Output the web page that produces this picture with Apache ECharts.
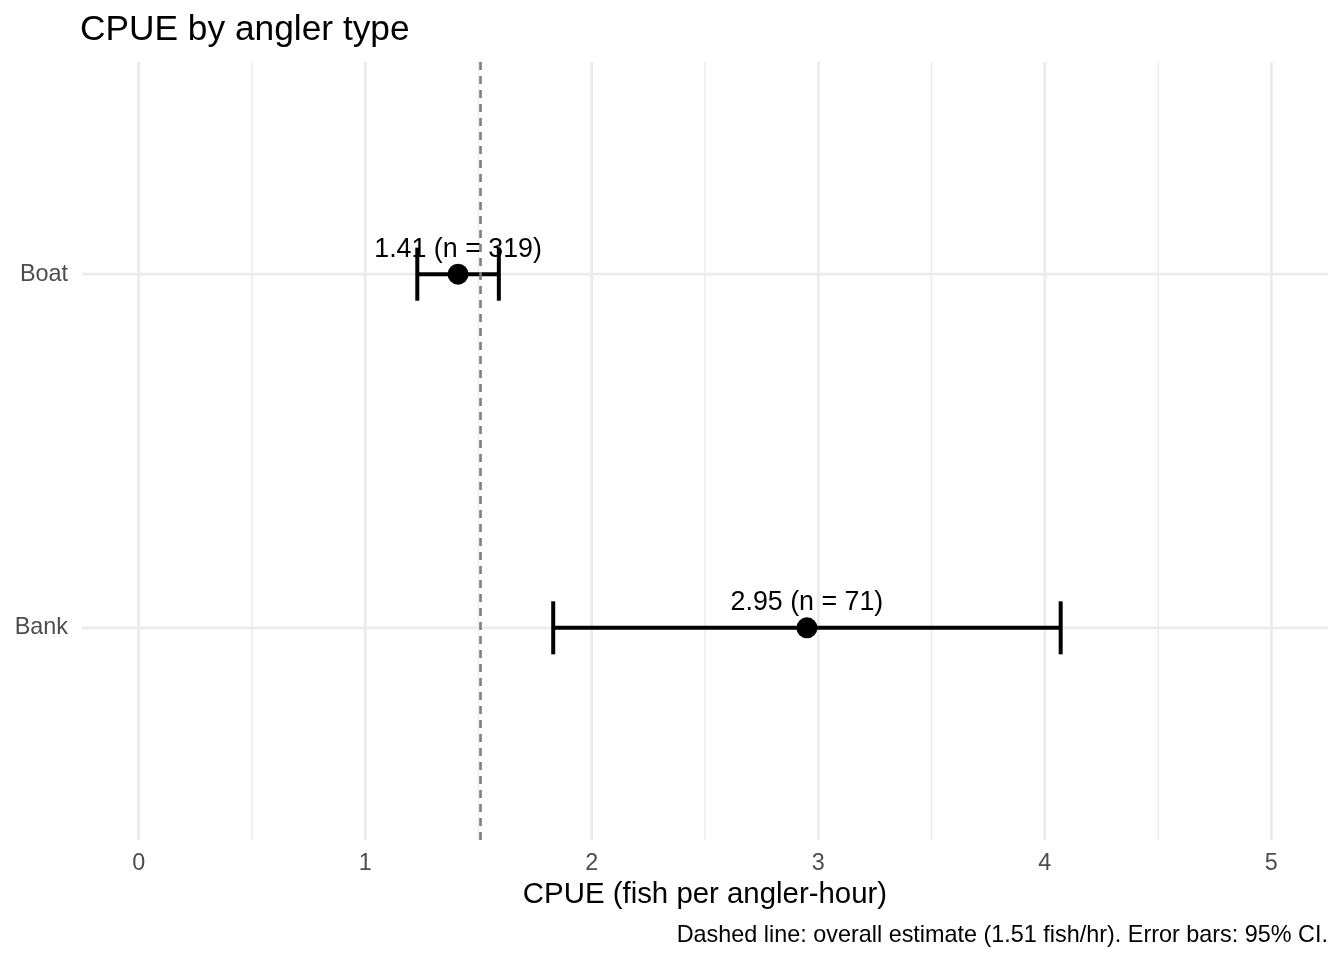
<!DOCTYPE html>
<html><head><meta charset="utf-8">
<script src="https://cdn.jsdelivr.net/npm/echarts@6/dist/echarts.min.js"></script>
<style>html,body{margin:0;padding:0;background:#fff}#c{width:1344px;height:960px}</style>
</head><body><div id="c"></div>
<script>
const categories = ['Bank', 'Boat'];
const estimates = [2.95, 1.41];
const ciLower = [1.83, 1.23];
const ciUpper = [4.07, 1.59];
const sampleSizes = [71, 319];
const overallEstimate = 1.51;
const xTicks = [0, 1, 2, 3, 4, 5];
const xMinorTicks = [0.5, 1.5, 2.5, 3.5, 4.5];

const catPos = categories.map((c, i) => i + 1);
const FONT = 'Liberation Sans, Arial, Helvetica, sans-serif';

const chart = echarts.init(document.getElementById('c'), null, {renderer: 'canvas'});

function vLine(width) {
  return function (params, api) {
    const cs = params.coordSys;
    const x = api.coord([api.value(0), 1])[0];
    return {type: 'line', shape: {x1: x, y1: cs.y, x2: x, y2: cs.y + cs.height},
      style: {stroke: '#ebebeb', lineWidth: width}};
  };
}

const option = {
  animation: false,
  backgroundColor: '#ffffff',
  textStyle: {fontFamily: FONT},
  title: [
    {text: 'CPUE by angler type', left: 75, top: 8,
     textStyle: {fontSize: 35.3, fontWeight: 'normal', color: '#000', fontFamily: FONT}},
    {text: 'Dashed line: overall estimate (' + overallEstimate.toFixed(2) + ' fish/hr). Error bars: 95% CI.',
     right: 11, top: 919,
     textStyle: {fontSize: 23.4, fontWeight: 'normal', color: '#000', fontFamily: FONT}}
  ],
  grid: {left: 82, right: 16, top: 62, bottom: 120, containLabel: false},
  xAxis: {
    type: 'value', min: -0.25, max: 5.25,
    name: 'CPUE (fish per angler-hour)', nameLocation: 'middle', nameGap: 39,
    nameTextStyle: {fontSize: 29.4, color: '#000', fontFamily: FONT},
    axisLine: {show: false}, axisTick: {show: false}, splitLine: {show: false},
    axisLabel: {customValues: xTicks, formatter: v => String(v), fontSize: 23.4, color: '#4d4d4d', margin: 12, fontFamily: FONT}
  },
  yAxis: {
    type: 'value', min: 0.4, max: 2.6,
    axisLine: {show: false}, axisTick: {show: false}, splitLine: {show: false},
    axisLabel: {customValues: catPos, formatter: v => categories[Math.round(v) - 1], fontSize: 23.4, color: '#4d4d4d', margin: 14, fontFamily: FONT,
      padding: [4, 0, 0, 0]}
  },
  series: [
    {type: 'custom', z: 1, silent: true, renderItem: vLine(1.4), data: xMinorTicks.map(v => [v])},
    {type: 'custom', z: 1, silent: true, renderItem: vLine(2.8), data: xTicks.map(v => [v])},
    {type: 'custom', z: 1, silent: true,
     renderItem: function (params, api) {
       const cs = params.coordSys;
       const y = api.coord([0, api.value(0)])[1];
       return {type: 'line', shape: {x1: cs.x, y1: y, x2: cs.x + cs.width, y2: y},
         style: {stroke: '#ebebeb', lineWidth: 2.8}};
     },
     data: catPos.map(v => [v]),
     markLine: {
       silent: true, symbol: ['none', 'none'], label: {show: false},
       lineStyle: {color: '#7f7f7f', width: 2.6, type: [8, 6], opacity: 1},
       data: [{xAxis: overallEstimate}]
     }
    },
    {type: 'custom', z: 3, silent: true,
     renderItem: function (params, api) {
       const lo = api.coord([api.value(0), api.value(2)]);
       const hi = api.coord([api.value(1), api.value(2)]);
       const capTop = api.coord([api.value(0), api.value(2) + 0.075])[1];
       const capBot = api.coord([api.value(0), api.value(2) - 0.075])[1];
       const st = {stroke: '#000', lineWidth: 4};
       return {type: 'group', children: [
         {type: 'line', shape: {x1: lo[0], y1: lo[1], x2: hi[0], y2: hi[1]}, style: st},
         {type: 'line', shape: {x1: lo[0], y1: capTop, x2: lo[0], y2: capBot}, style: st},
         {type: 'line', shape: {x1: hi[0], y1: capTop, x2: hi[0], y2: capBot}, style: st}
       ]};
     },
     data: categories.map((c, i) => [ciLower[i], ciUpper[i], catPos[i]])
    },
    {type: 'scatter', z: 4, silent: true, symbol: 'circle', symbolSize: 21,
     itemStyle: {color: '#000', opacity: 1},
     data: categories.map((c, i) => [estimates[i], catPos[i], sampleSizes[i]]),
     label: {show: true, position: 'inside', offset: [0, -25], color: '#000', opacity: 1, fontSize: 26.8, fontFamily: FONT,
       textBorderWidth: 0,
       formatter: p => p.value[0].toFixed(2) + ' (n = ' + p.value[2] + ')'}
    }
  ]
};
chart.setOption(option);
</script></body></html>
